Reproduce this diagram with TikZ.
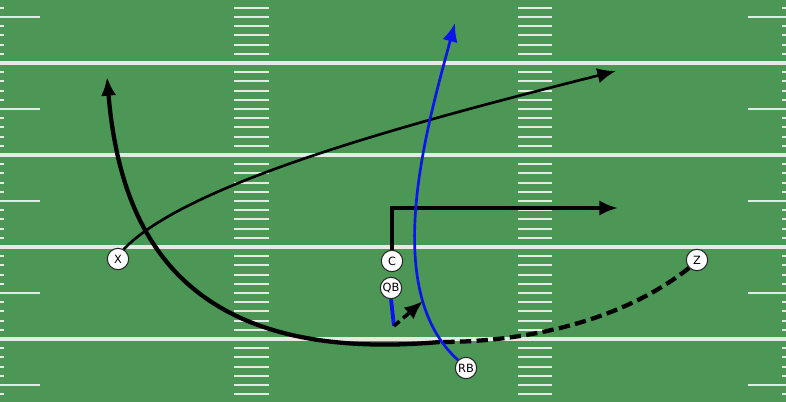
\documentclass[tikz,border=0pt]{standalone}
\usepackage{fontspec}
\setmainfont{DejaVu Sans}
\usepackage{tikz}
\usetikzlibrary{arrows.meta}

\definecolor{grass}{RGB}{76,150,86}
\definecolor{chalk}{RGB}{226,236,226}
\definecolor{routeblue}{RGB}{10,20,235}

\begin{document}
\begin{tikzpicture}[x=0.75pt,y=0.75pt,yscale=-1,xscale=1,
    yardline/.style={color=chalk,line width=2.6pt},
    hashmark/.style={color=chalk,line width=1.6pt},
    player/.style={circle,draw=black!85,fill=white,line width=0.8pt,minimum size=16pt,inner sep=0pt,font=\fontsize{8.5}{9}\selectfont},
    tip/.style={-{Latex[length=14pt,width=11.5pt]}},
    thinroute/.style={tip,line width=2pt},
    thickroute/.style={tip,line width=3.2pt},
    motion/.style={line width=3.2pt,dash pattern=on 8.5pt off 4pt},
    bluerun/.style={tip,color=routeblue,line width=2pt}]
            %Shape: Field
            \useasboundingbox (0,0) rectangle (786,402);
            \fill [grass] (0,0) rectangle (786,402);
            \clip (0,0) rectangle (786,402);
            %Shape: Yard lines
            \foreach \k in {0,...,3}
                \draw [yardline] (0,63+92*\k) -- (786,63+92*\k);
            %Shape: Hash marks
            \foreach \k in {-1,...,3}
                \foreach \j in {1,...,9} {
                    \draw [hashmark] (0,63+92*\k+9.2*\j) -- (4,63+92*\k+9.2*\j);
                    \draw [hashmark] (782,63+92*\k+9.2*\j) -- (786,63+92*\k+9.2*\j);
                    \draw [hashmark] (234,63+92*\k+9.2*\j) -- (269,63+92*\k+9.2*\j);
                    \draw [hashmark] (518,63+92*\k+9.2*\j) -- (552,63+92*\k+9.2*\j);
                }
            \foreach \k in {-1,...,3} {
                \draw [hashmark] (0,109+92*\k) -- (40,109+92*\k);
                \draw [hashmark] (748,109+92*\k) -- (786,109+92*\k);
            }

            % Players
            \node [player] (X) at (118,259) {X};
            \node [player] (C) at (392,261) {C};
            \node [player] (QB) at (391,288) {QB};
            \node [player] (RB) at (466,368) {RB};
            \node [player] (Z) at (697,260) {Z};

            % Route ends
            \coordinate (xend) at (616,71);
            \coordinate (cend) at (618,208);
            \coordinate (zjoin) at (440,342);
            \coordinate (zend) at (107,77);
            \coordinate (qbdrop) at (394,326);
            \coordinate (handoff) at (423,301);
            \coordinate (rbend) at (455,23);

            %Route: X
            \draw [thinroute] (X.60) .. controls (190,180) and (430,118) .. (xend);
            %Route: Z
            \draw [motion] (Z.225) .. controls (630,315) and (540,342) .. (zjoin);
            \draw [thickroute] (zjoin) .. controls (180,365) and (120,230) .. (zend);
            %Route: C
            \draw [thickroute,line width=2.9pt] (C.north) |- (cend);
            %Route: QB
            \draw [color=routeblue,line width=2.9pt] (QB.south) -- (qbdrop);
            \draw [tip,line width=2.7pt,dash pattern=on 5.5pt off 3.5pt] (qbdrop) -- (handoff);
            %Route: RB
            \draw [bluerun] (RB.135) .. controls (380,290) and (426,130) .. (rbend);
        \end{tikzpicture}
\end{document}
